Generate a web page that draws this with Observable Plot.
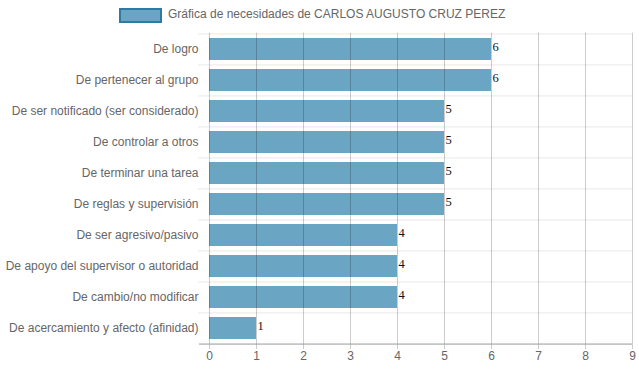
<!DOCTYPE html>
<html>
<head>
<meta charset="utf-8">
<script src="https://cdn.jsdelivr.net/npm/d3@7"></script>
<script src="https://cdn.jsdelivr.net/npm/@observablehq/plot@0.6"></script>
<style>
  html, body { margin: 0; padding: 0; background: #fff; }
  body { width: 639px; height: 372px; overflow: hidden; font-family: "Liberation Sans", Arial, sans-serif; }
  #legend { height: 28px; position: relative; }
  #legend .box { position: absolute; left: 119px; top: 8px; width: 39px; height: 11px; background: #6ba5c4; border: 2px solid #2f7aa5; }
  #legend .lbl { position: absolute; left: 168px; top: 7px; font-size: 12px; color: #666; white-space: nowrap; }
  svg { display: block; }
</style>
</head>
<body>
<div id="legend"><span class="box"></span><span class="lbl">Gráfica de necesidades de CARLOS AUGUSTO CRUZ PEREZ</span></div>
<div id="chart"></div>
<script>
const categories = [
  "De logro",
  "De pertenecer al grupo",
  "De ser notificado (ser considerado)",
  "De controlar a otros",
  "De terminar una tarea",
  "De reglas y supervisión",
  "De ser agresivo/pasivo",
  "De apoyo del supervisor o autoridad",
  "De cambio/no modificar",
  "De acercamiento y afecto (afinidad)"
];
const values = [6, 6, 5, 5, 5, 5, 4, 4, 4, 1];
const xTicks = [0, 1, 2, 3, 4, 5, 6, 7, 8, 9];

const data = categories.map((c, i) => ({cat: c, v: values[i]}));

const W = 639, H = 344, mt = 4.7, mb = 28;
const step = (H - mt - mb) / categories.length;

const chart = Plot.plot({
  width: W,
  height: H,
  marginTop: mt,
  marginBottom: mb,
  marginLeft: 209,
  marginRight: 7,
  style: {fontFamily: "'Liberation Sans', Arial, sans-serif", fontSize: "12px", color: "#666", background: "#fff"},
  x: {domain: [0, 9]},
  y: {domain: categories, paddingInner: 0.3, paddingOuter: 0.15, align: 0.5},
  marks: [
    Plot.ruleY(categories, {y: d => d, dy: -step / 2, stroke: "#e8e8e8", strokeWidth: 1, insetLeft: -11}),
    Plot.barX(data, {y: "cat", x: "v", fill: "#6ba5c4"}),
    Plot.ruleX(xTicks, {x: d => d, stroke: "#000", strokeOpacity: 0.2, strokeWidth: 1, insetBottom: -5}),
    Plot.ruleY([categories[categories.length - 1]], {y: d => d, dy: step / 2, stroke: "#999", strokeWidth: 1, insetLeft: -10}),
    Plot.text(data, {y: "cat", x: "v", text: d => String(d.v), textAnchor: "start", dx: 1, dy: -3, fill: "#111", fontFamily: "'Liberation Serif', 'Times New Roman', serif", fontSize: 12.5}),
    Plot.axisX(xTicks, {tickSize: 0, tickPadding: 7, fill: "#666", fontSize: 12, label: null}),
    Plot.axisY({tickSize: 0, tickPadding: 11, fill: "#666", fontSize: 12, label: null})
  ]
});
document.getElementById("chart").appendChild(chart);
</script>
</body>
</html>
